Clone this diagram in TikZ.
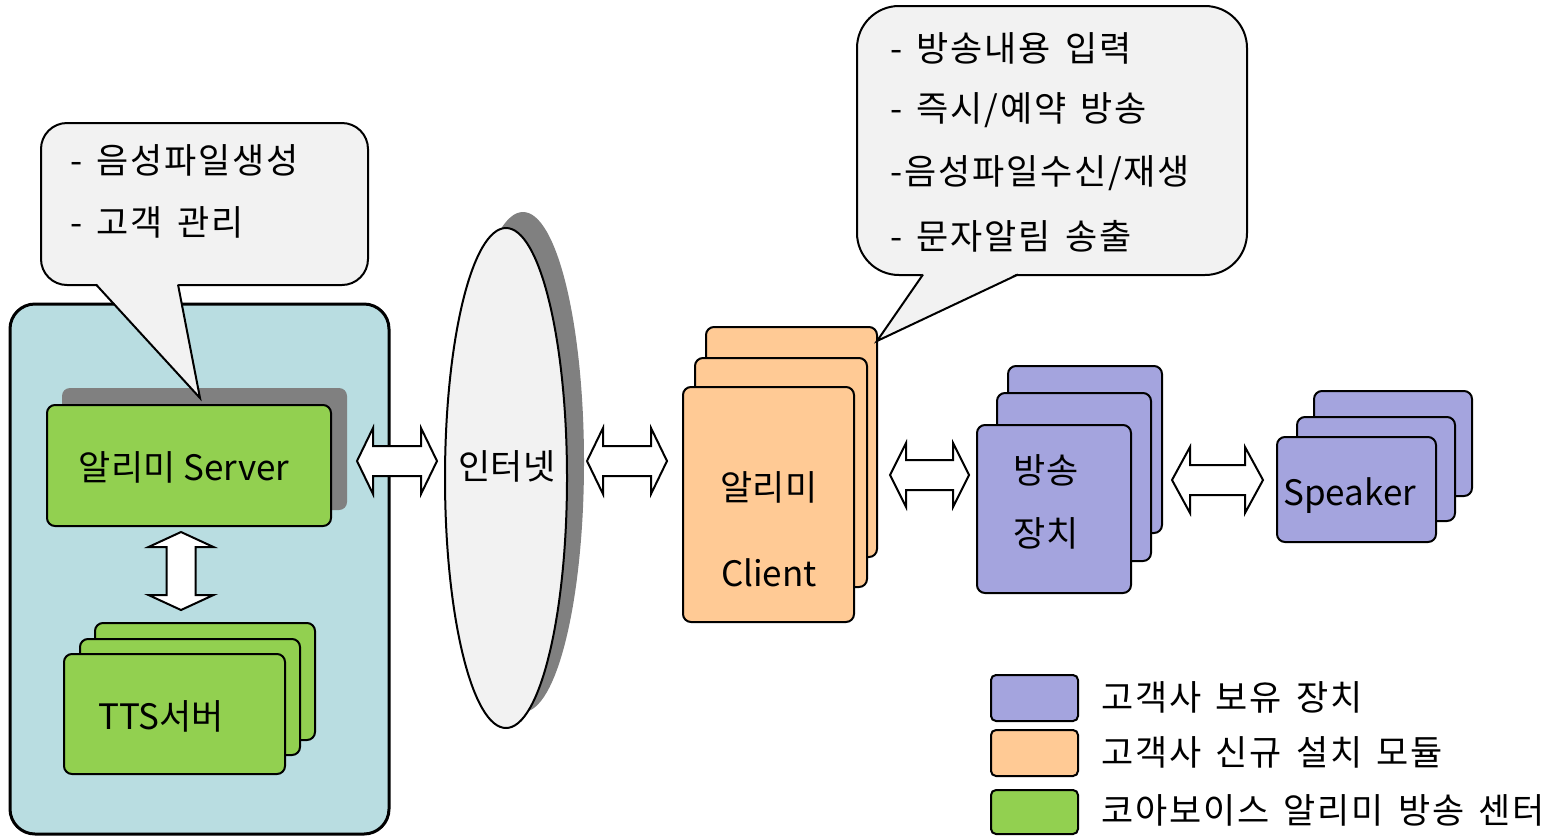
\documentclass[tikz,border=0pt]{standalone}
\usepackage{fontspec}
\setmainfont{Noto Sans CJK KR}
\newfontfamily\krsp{Noto Sans CJK KR}[LetterSpace=5, WordSpace=1.5]
\usetikzlibrary{calc,shapes.geometric}
\definecolor{cTeal}{HTML}{B9DDE1}
\definecolor{cGreen}{HTML}{92D050}
\definecolor{cOrange}{HTML}{FFCA95}
\definecolor{cPurple}{HTML}{A4A4DE}
\definecolor{cCall}{HTML}{F2F2F2}
\definecolor{cShadow}{HTML}{808080}
% box: name, style, x1, y1, x2, y2
\newcommand\bx[6]{%
  \node[#2, minimum width={(#5-#3)*0.5pt}, minimum height={(#6-#4)*0.5pt}] (#1) at ({(#3+#5)/2},{(#4+#6)/2}) {};}
% horizontal double block arrow: x1 x2 cy headhalf shafthalf headlen
\newcommand\hdarrow[6]{%
  \draw[blockarrow] (#1,#3) -- ({#1+#6},{#3-#4}) -- ({#1+#6},{#3-#5}) -- ({#2-#6},{#3-#5}) -- ({#2-#6},{#3-#4}) -- (#2,#3)
    -- ({#2-#6},{#3+#4}) -- ({#2-#6},{#3+#5}) -- ({#1+#6},{#3+#5}) -- ({#1+#6},{#3+#4}) -- cycle;}
% vertical double block arrow: y1 y2 cx headhalf shafthalf headlen
\newcommand\vdarrow[6]{%
  \draw[blockarrow] (#3,#1) -- ({#3+#4},{#1+#6}) -- ({#3+#5},{#1+#6}) -- ({#3+#5},{#2-#6}) -- ({#3+#4},{#2-#6}) -- (#3,#2)
    -- ({#3-#4},{#2-#6}) -- ({#3-#5},{#2-#6}) -- ({#3-#5},{#1+#6}) -- ({#3-#4},{#1+#6}) -- cycle;}
\begin{document}
\begin{tikzpicture}[x=0.5pt,y=-0.5pt,
  font=\fontsize{17.5}{21}\selectfont,
  box/.style={draw=black, line width=1pt, rounded corners=4pt, inner sep=0pt},
  lbl/.style={inner sep=0pt},
  krlbl/.style={inner sep=0pt, anchor=west, font=\krsp\fontsize{17.5}{21}\selectfont},
  blockarrow/.style={draw=black, fill=white, line width=1pt, line join=miter},
  callbox/.style={draw=black, fill=cCall, line width=1pt, inner sep=0pt}]
\useasboundingbox (0,0) rectangle (1562,836);

% ---------- left container ----------
\bx{center}{draw=black, fill=cTeal, line width=1.5pt, rounded corners=12.5pt, inner sep=0pt}{10}{304}{389}{834}
\bx{srvshadow}{fill=cShadow, rounded corners=4pt, inner sep=0pt}{62}{388}{347}{510}

% ---------- callout 1 ----------
\bx{call1}{callbox, rounded corners=13pt}{41}{123}{368}{285}
\coordinate (tip1) at (200,398);
\fill[cCall] (96,283) -- (tip1) -- (178,283) -- cycle;
\draw[line width=1pt, line join=miter] (96,284.5) -- (tip1) -- (178,284.5);
\node[krlbl] (c1a) at (70,160) {- 음성파일생성};
\node[krlbl] (c1b) at (70,222) {- 고객 관리};

% server
\bx{server}{box, fill=cGreen}{47}{405}{331}{526}
\node[lbl] (srvtxt) at (184,467) {알리미 Server};

% vertical arrow
\vdarrow{532}{610}{181}{32.5}{14.5}{15}

% TTS stack
\bx{tts3}{box, fill=cGreen}{95}{623}{315}{740}
\bx{tts2}{box, fill=cGreen}{80}{639}{300}{755}
\bx{tts1}{box, fill=cGreen}{64}{654}{285}{774}
\node[lbl, anchor=west] (ttstxt) at (98,716) {TTS서버};

% ---------- internet ----------
\fill[cShadow] (523,462) ellipse [x radius=61, y radius=250];
\node[draw=black, fill=cCall, line width=1pt, ellipse, minimum width=61pt, minimum height=250pt, inner sep=0pt] (net) at (506,478) {};
\node[lbl] (nettxt) at (507,466) {인터넷};

\hdarrow{357}{437}{461}{33}{15}{16}
\hdarrow{587}{667}{461}{33}{15}{16}

% ---------- client stack ----------
\bx{cli3}{box, fill=cOrange}{706}{327}{877}{557}
\bx{cli2}{box, fill=cOrange}{695}{358}{867}{587}
\bx{cli1}{box, fill=cOrange}{683}{387}{854}{622}
\node[lbl] (clia) at (769,487) {알리미};
\node[lbl] (clib) at (769,573) {Client};

% ---------- callout 2 ----------
\bx{call2}{callbox, rounded corners=21pt}{857}{6}{1247}{275}
\coordinate (tip2) at (877,341);
\fill[cCall] (923,273) -- (tip2) -- (1018,273) -- cycle;
\draw[line width=1pt, line join=miter] (923,274.5) -- (tip2) -- (1018,274.5);
\node[krlbl] (c2a) at (890,48) {- 방송내용 입력};
\node[krlbl] (c2b) at (890,110) {- 즉시/예약 방송};
\node[krlbl] (c2c) at (890,173) {-음성파일수신/재생};
\node[krlbl] (c2d) at (890,236) {- 문자알림 송출};

\hdarrow{890}{969}{475}{32}{15}{16}

% ---------- broadcast device stack ----------
\bx{dev3}{box, fill=cPurple}{1008}{366}{1162}{533}
\bx{dev2}{box, fill=cPurple}{997}{393}{1151}{561}
\bx{dev1}{box, fill=cPurple}{977}{425}{1131}{593}
\node[lbl] (deva) at (1046,470) {방송};
\node[lbl] (devb) at (1046,533) {장치};

\hdarrow{1172}{1263}{480}{33}{15}{18}

% ---------- speaker stack ----------
\bx{spk3}{box, fill=cPurple}{1314}{391}{1472}{496}
\bx{spk2}{box, fill=cPurple}{1297}{417}{1455}{521}
\bx{spk1}{box, fill=cPurple}{1277}{437}{1436}{542}
\node[lbl, anchor=west] (spktxt) at (1283,496) {Speaker};

% ---------- legend ----------
\bx{leg1}{box, fill=cPurple, rounded corners=2.5pt}{991}{675}{1078}{721}
\bx{leg2}{box, fill=cOrange, rounded corners=2.5pt}{991}{730}{1078}{776}
\bx{leg3}{box, fill=cGreen, rounded corners=2.5pt}{991}{790}{1078}{834}
\node[krlbl] (leg1t) at (1101,697) {고객사 보유 장치};
\node[krlbl] (leg2t) at (1101,752) {고객사 신규 설치 모듈};
\node[krlbl] (leg3t) at (1101,810) {코아보이스 알리미 방송 센터};
\end{tikzpicture}
\end{document}
